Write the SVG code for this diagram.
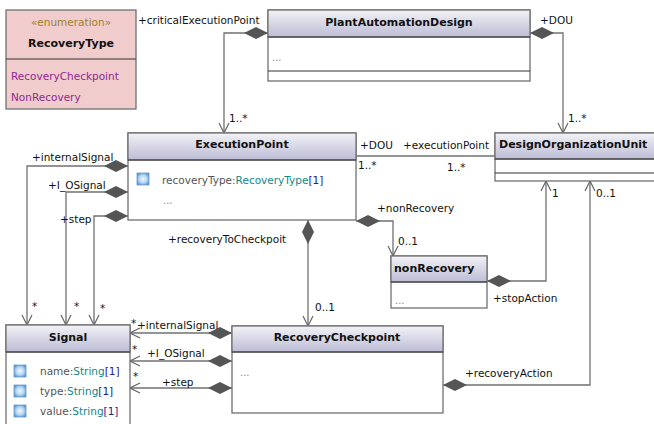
<svg xmlns="http://www.w3.org/2000/svg" width="654" height="424" viewBox="0 0 654 424">
  <defs>
    <linearGradient id="hdr" x1="0" y1="0" x2="0" y2="1">
      <stop offset="0" stop-color="#f2f2f6"/>
      <stop offset="1" stop-color="#bcbcd6"/>
    </linearGradient>
    <radialGradient id="ico" cx="0.5" cy="0.5" r="0.6">
      <stop offset="0" stop-color="#eef7fd"/>
      <stop offset="0.55" stop-color="#b4d6f2"/>
      <stop offset="1" stop-color="#4f8fd0"/>
    </radialGradient>
    <marker id="dia" viewBox="0 -6 24 12" refX="0" refY="0" markerWidth="24" markerHeight="12" markerUnits="userSpaceOnUse" orient="auto">
      <path d="M0,0 L12,-6 L24,0 L12,6 Z" fill="#555"/>
    </marker>
    <marker id="arr" viewBox="-11 -6 12 12" refX="0" refY="0" markerWidth="12" markerHeight="12" markerUnits="userSpaceOnUse" orient="auto">
      <path d="M-10,-5 L0,0 L-10,5" fill="none" stroke="#666" stroke-width="1.2"/>
    </marker>
  </defs>
  <style>
    text { font-family: "DejaVu Sans", "Liberation Sans", sans-serif; font-size: 10.5px; fill: #111; }
    .t { font-weight: bold; font-size: 11px; }
    .c { text-anchor: middle; }
    .box { fill: #fff; stroke: #707070; stroke-width: 1.3; }
    .hd { fill: url(#hdr); stroke: #707070; stroke-width: 1.3; }
    .div { stroke: #333; stroke-width: 1.2; }
    .dots { fill: #888; font-size: 10px; }
    .typ { fill: #108888; }
    .mul { fill: #202090; }
    .att { fill: #555; }
    .lit { fill: #902890; }
    .ster { fill: #a08030; }
    .icon { fill: url(#ico); stroke: #6a9ccc; stroke-width: 0.8; }
    .cn path { fill: none; stroke: #707070; stroke-width: 1.3; }
    .agg { marker-start: url(#dia); }
    .nav { marker-end: url(#arr); }
  </style>

  <!-- connectors -->
  <g id="connectors" class="cn">
    <path class="agg nav" d="M268,33 H224 V133"/>
    <path class="agg nav" d="M530,33 H563 V133"/>
    <path d="M356,156 H495"/>
    <path class="agg nav" d="M128,166 H27 V325"/>
    <path class="agg nav" d="M128,192 H66 V325"/>
    <path class="agg nav" d="M128,216 H94 V325"/>
    <path class="agg nav" d="M308,220 V326"/>
    <path class="agg nav" d="M356,221 H393 V256"/>
    <path class="agg nav" d="M487,281 H546 V181"/>
    <path class="agg nav" d="M443,385 H590 V181"/>
    <path class="agg nav" d="M232,333 H130"/>
    <path class="agg nav" d="M232,361 H130"/>
    <path class="agg nav" d="M232,388 H130"/>
  </g>

  <!-- connector labels -->
  <g id="labels">
    <text x="138" y="24">+criticalExecutionPoint</text>
    <text x="229" y="122">1..*</text>
    <text x="540" y="24">+DOU</text>
    <text x="568" y="122">1..*</text>
    <text x="360" y="149">+DOU</text>
    <text x="403" y="149">+executionPoint</text>
    <text x="358" y="169">1..*</text>
    <text x="447" y="171">1..*</text>
    <text x="32" y="161">+internalSignal</text>
    <text x="48" y="189">+I_OSignal</text>
    <text x="60" y="223">+step</text>
    <text x="32" y="310">*</text>
    <text x="74" y="310">*</text>
    <text x="100" y="312">*</text>
    <text x="168" y="243">+recoveryToCheckpoit</text>
    <text x="315" y="311">0..1</text>
    <text x="377" y="212">+nonRecovery</text>
    <text x="398" y="245">0..1</text>
    <text x="552" y="197">1</text>
    <text x="493" y="302">+stopAction</text>
    <text x="596" y="197">0..1</text>
    <text x="465" y="377">+recoveryAction</text>
    <text x="131" y="327">*</text>
    <text x="137" y="329">+internalSignal</text>
    <text x="132" y="353">*</text>
    <text x="147" y="357">+I_OSignal</text>
    <text x="133" y="380">*</text>
    <text x="162" y="386">+step</text>
  </g>

  <!-- enumeration RecoveryType -->
  <g id="RecoveryType">
    <rect x="6" y="10" width="130" height="99" fill="#f0cccc" stroke="#707070" stroke-width="1.3"/>
    <line class="div" x1="6" y1="59" x2="136" y2="59"/>
    <text class="c ster" x="71" y="26">«enumeration»</text>
    <text class="t c" x="71" y="47">RecoveryType</text>
    <text class="lit" x="11" y="80">RecoveryCheckpoint</text>
    <text class="lit" x="11" y="101">NonRecovery</text>
  </g>

  <!-- class PlantAutomationDesign -->
  <g id="PlantAutomationDesign">
    <rect class="box" x="268" y="10" width="262" height="71"/>
    <rect class="hd" x="268" y="10" width="262" height="27"/>
    <line class="div" x1="268" y1="37" x2="530" y2="37"/>
    <line class="div" x1="268" y1="71" x2="530" y2="71"/>
    <text class="t c" x="399" y="26">PlantAutomationDesign</text>
    <text class="dots" x="272" y="61">...</text>
  </g>

  <!-- class ExecutionPoint -->
  <g id="ExecutionPoint">
    <rect class="box" x="128" y="133" width="228" height="87"/>
    <rect class="hd" x="128" y="133" width="228" height="27"/>
    <line class="div" x1="128" y1="160" x2="356" y2="160"/>
    <text class="t c" x="242" y="148">ExecutionPoint</text>
    <rect class="icon" x="137" y="173" width="12" height="12"/>
    <text x="162" y="184"><tspan class="att">recoveryType:</tspan><tspan class="typ">RecoveryType</tspan><tspan class="mul">[1]</tspan></text>
    <text class="dots" x="163" y="204">...</text>
  </g>

  <!-- class DesignOrganizationUnit -->
  <g id="DesignOrganizationUnit">
    <rect class="box" x="495" y="133" width="170" height="48"/>
    <rect class="hd" x="495" y="133" width="170" height="26"/>
    <line class="div" x1="495" y1="159" x2="665" y2="159"/>
    <line class="div" x1="495" y1="173" x2="665" y2="173"/>
    <text class="t" x="499" y="148">DesignOrganizationUnit</text>
  </g>

  <!-- class nonRecovery -->
  <g id="nonRecovery">
    <rect class="box" x="391" y="256" width="96" height="52"/>
    <rect class="hd" x="391" y="256" width="96" height="26"/>
    <line class="div" x1="391" y1="282" x2="487" y2="282"/>
    <text class="t" x="394" y="272">nonRecovery</text>
    <text class="dots" x="395" y="304">...</text>
  </g>

  <!-- class Signal -->
  <g id="Signal">
    <rect class="box" x="6" y="325" width="124" height="110"/>
    <rect class="hd" x="6" y="325" width="124" height="27"/>
    <line class="div" x1="6" y1="352" x2="130" y2="352"/>
    <text class="t c" x="68" y="341">Signal</text>
    <rect class="icon" x="14" y="365" width="12" height="12"/>
    <rect class="icon" x="14" y="385" width="12" height="12"/>
    <rect class="icon" x="14" y="405" width="12" height="12"/>
    <text x="40" y="375"><tspan class="att">name:</tspan><tspan class="typ">String</tspan><tspan class="mul">[1]</tspan></text>
    <text x="40" y="395"><tspan class="att">type:</tspan><tspan class="typ">String</tspan><tspan class="mul">[1]</tspan></text>
    <text x="40" y="415"><tspan class="att">value:</tspan><tspan class="typ">String</tspan><tspan class="mul">[1]</tspan></text>
  </g>

  <!-- class RecoveryCheckpoint -->
  <g id="RecoveryCheckpoint">
    <rect class="box" x="232" y="326" width="211" height="87"/>
    <rect class="hd" x="232" y="326" width="211" height="26"/>
    <line class="div" x1="232" y1="352" x2="443" y2="352"/>
    <text class="t c" x="337" y="341">RecoveryCheckpoint</text>
    <text class="dots" x="240" y="376">...</text>
  </g>
</svg>
